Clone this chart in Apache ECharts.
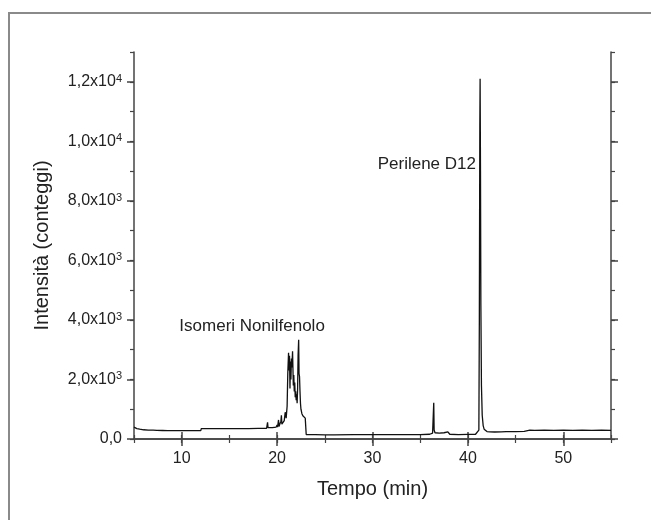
<!DOCTYPE html>
<html lang="it">
<head>
    <meta charset="utf-8">
    <title>Cromatogramma</title>
    <style>
        html, body { margin: 0; padding: 0; background: #fff; }
        #main { width: 651px; height: 520px; }
    </style>
</head>
<body>
    <div id="main"></div>
    <script src="https://cdn.jsdelivr.net/npm/echarts@6/dist/echarts.min.js"></script>
    <script>
        // tempo (min) e intensita' (conteggi)
        var tempo = [5.0, 5.1, 5.3, 5.6, 6.0, 6.5, 7.0, 7.4, 7.5, 7.6, 8.0, 8.5, 9.0, 9.05, 9.1, 10.0, 11.0, 12.0, 12.05,
            13, 14, 15, 16, 17, 18, 18.9, 19.0, 19.05, 19.1, 19.5, 19.9, 20.0, 20.05, 20.15, 20.2, 20.25, 20.4, 20.45,
            20.5, 20.6, 20.75, 20.85, 20.95, 21.05, 21.12, 21.2, 21.25, 21.3, 21.35, 21.4, 21.45, 21.5, 21.55, 21.62,
            21.7, 21.75, 21.8, 21.85, 21.9, 21.95, 22.0, 22.05, 22.1, 22.15, 22.2, 22.26, 22.3, 22.35, 22.4, 22.45,
            22.5, 22.6, 22.7, 22.8, 22.9, 22.95, 23.0, 23.05, 23.1, 24, 25, 26, 28, 30, 32, 34, 35, 36, 36.2, 36.3,
            36.38, 36.42, 36.46, 36.55, 36.7, 37, 37.5, 37.9, 38.0, 38.1, 38.3, 39, 40, 40.8, 41.0, 41.15, 41.2, 41.25,
            41.28, 41.32, 41.36, 41.42, 41.5, 41.6, 41.7, 41.85, 42.0, 42.3, 42.8, 43.5, 44, 45, 45.9, 46.0, 46.5, 47,
            48, 49, 50, 51, 52, 53, 54, 55];
        var intensita = [400, 380, 350, 330, 310, 300, 295, 290, 350, 290, 285, 280, 280, 330, 280, 280, 280, 280, 350,
            350, 350, 350, 350, 350, 355, 360, 560, 380, 370, 380, 400, 470, 400, 640, 420, 450, 600, 800,
            500, 460, 620, 900, 700, 1100, 2200, 2900, 2300, 2800, 1700, 2600, 2000, 2700, 2400, 2950,
            1800, 2150, 1600, 1900, 1400, 1600, 1300, 1500, 1200, 1700, 2800, 3330, 2200, 2100, 1600, 1200,
            1000, 850, 780, 760, 720, 700, 690, 150, 140, 145, 140, 140, 145, 145, 150, 150, 150, 160, 190, 200,
            250, 1220, 300, 210, 200, 200, 210, 240, 245, 160, 150, 150, 155, 160, 160, 300, 4000, 10500,
            12100, 9000, 4500, 1800, 800, 450, 330, 280, 250, 240, 235, 240, 245, 250, 255, 300, 295, 290,
            295, 290, 295, 290, 295, 290, 295, 290];

        var xMajor = [10, 20, 30, 40, 50];
        var yMajor = [0, 2000, 4000, 6000, 8000, 10000, 12000];

        // etichette dei picchi: [tempo, intensita', testo]
        var etichette = [
            [9.7, 3800, 'Isomeri Nonilfenolo'],
            [40.9, 9230, 'Perilene D12']
        ];

        var font = "'Liberation Sans', Arial, sans-serif";
        var axisCol = '#444';

        var dati = [];
        for (var i = 0; i < tempo.length; i++) {
            dati.push([tempo[i], intensita[i]]);
        }

        var yLabel = function (v) {
            if (v === 0) return '0,0';
            var e = Math.floor(Math.log10(v) + 1e-9);
            var m = (v / Math.pow(10, e)).toFixed(1).replace('.', ',');
            return m + 'x10{sup|' + e + '}';
        };

        var chart = echarts.init(document.getElementById('main'));

        var lineSt = { show: true, lineStyle: { color: axisCol, width: 1.5 } };
        var majTick = function (vals) {
            return { show: true, inside: false, length: 7, customValues: vals, lineStyle: { color: axisCol, width: 1.5 } };
        };
        var minTick = { show: true, inside: false, length: 4, lineStyle: { color: axisCol, width: 1.2 } };

        var option = {
            animation: false,
            textStyle: { fontFamily: font },
            graphic: [{
                type: 'polyline',
                shape: { points: [[9, 700], [9, 13], [700, 13]] },
                style: { stroke: '#8a8a8a', lineWidth: 2, fill: null },
                silent: true
            }],
            grid: { left: 134, right: 40, top: 52, bottom: 81 },
            xAxis: [{
                type: 'value', min: 5, max: 55, position: 'bottom',
                axisLine: lineSt, axisTick: majTick(xMajor), splitLine: { show: false },
                axisLabel: { customValues: xMajor, fontSize: 16, color: '#222', margin: 12 },
                name: 'Tempo (min)', nameLocation: 'middle', nameGap: 40,
                nameTextStyle: { fontSize: 20, color: '#222' }
            }, {
                type: 'value', min: 5, max: 55, interval: 5, position: 'bottom',
                axisLine: { show: false }, axisTick: minTick, axisLabel: { show: false }, splitLine: { show: false }
            }, {
                type: 'value', min: 5, max: 55, position: 'top',
                axisLine: lineSt, axisTick: majTick(xMajor), axisLabel: { show: false }, splitLine: { show: false }
            }, {
                type: 'value', min: 5, max: 55, interval: 5, position: 'top',
                axisLine: { show: false }, axisTick: minTick, axisLabel: { show: false }, splitLine: { show: false }
            }],
            yAxis: [{
                type: 'value', min: 0, max: 13000, position: 'left',
                axisLine: lineSt, axisTick: majTick(yMajor), splitLine: { show: false },
                axisLabel: {
                    customValues: yMajor, fontSize: 16, color: '#222', margin: 12,
                    formatter: yLabel,
                    rich: { sup: { fontSize: 11, verticalAlign: 'top', color: '#222', padding: [0, 0, 6, 0] } }
                },
                name: 'Intensità (conteggi)', nameLocation: 'middle', nameGap: 82,
                nameTextStyle: { fontSize: 20, color: '#222' }
            }, {
                type: 'value', min: 0, max: 13000, interval: 1000, position: 'left',
                axisLine: { show: false }, axisTick: minTick, axisLabel: { show: false }, splitLine: { show: false }
            }, {
                type: 'value', min: 0, max: 13000, position: 'right',
                axisLine: lineSt, axisTick: majTick(yMajor), axisLabel: { show: false }, splitLine: { show: false }
            }, {
                type: 'value', min: 0, max: 13000, interval: 1000, position: 'right',
                axisLine: { show: false }, axisTick: minTick, axisLabel: { show: false }, splitLine: { show: false }
            }],
            series: [{
                type: 'line',
                data: dati,
                showSymbol: false,
                lineStyle: { color: '#111', width: 1.3 },
                markPoint: {
                    symbol: 'circle', symbolSize: 1,
                    itemStyle: { color: 'rgba(0,0,0,0)' },
                    data: etichette.map(function (e, k) {
                        return {
                            coord: [e[0], e[1]],
                            label: {
                                show: true, formatter: e[2], fontSize: 17, color: '#222',
                                position: k === 0 ? 'right' : 'left', distance: 0
                            }
                        };
                    })
                }
            }]
        };

        chart.setOption(option);
    </script>
</body>
</html>
